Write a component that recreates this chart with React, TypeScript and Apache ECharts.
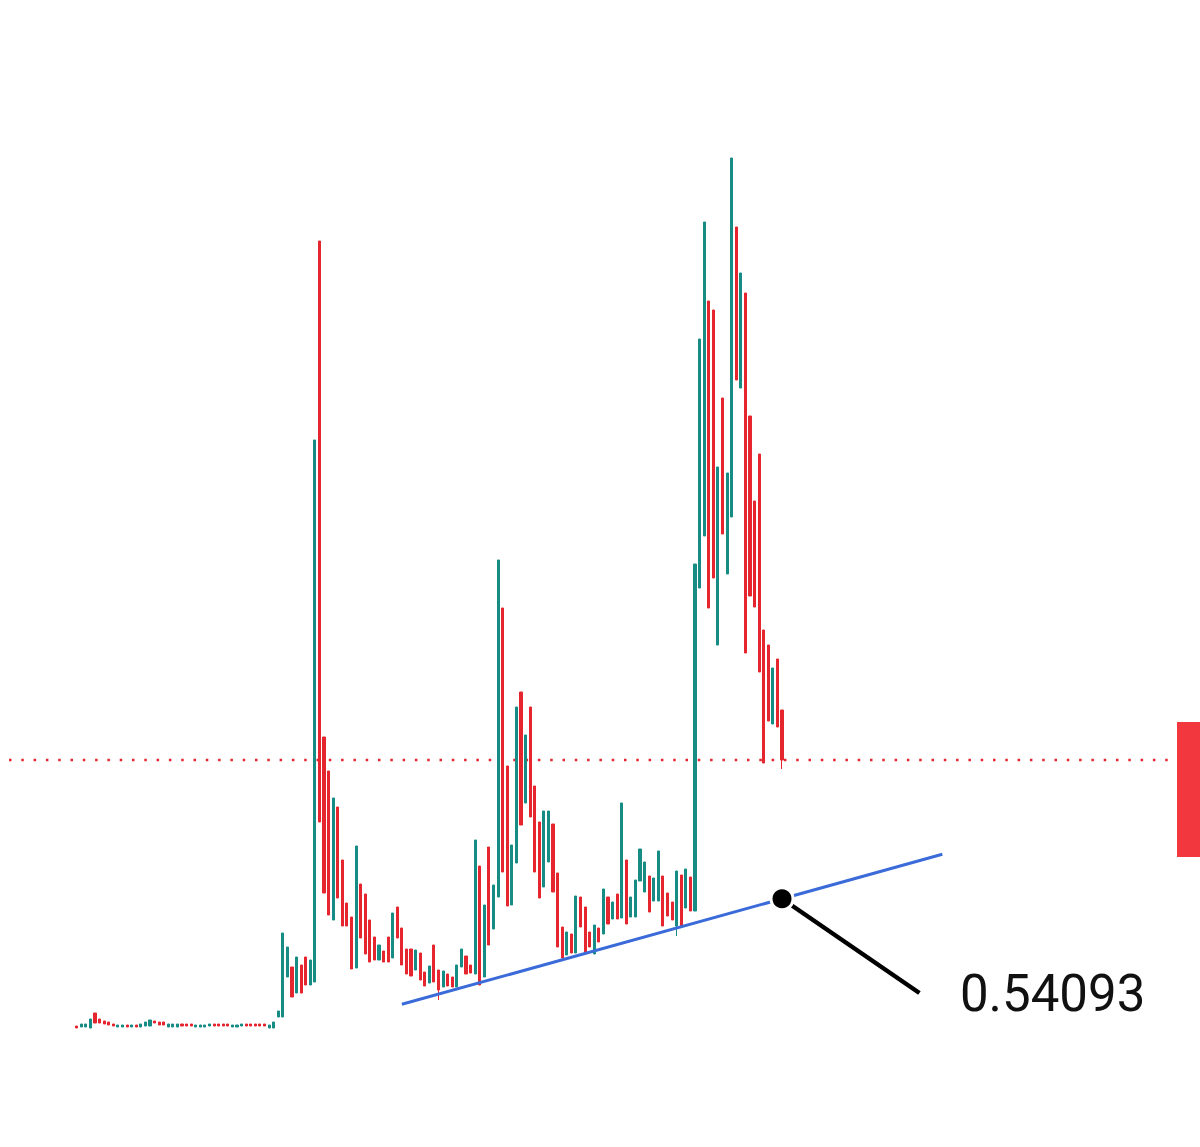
import React, { useEffect, useRef } from 'react';
import * as echarts from 'echarts';

// ---- data (price units) ----
const opens = [
  0.032, 0.028, 0.028, 0.024, 0.084, 0.060, 0.052, 0.048, 0.040, 0.028,
  0.028, 0.036, 0.028, 0.036, 0.028, 0.032, 0.032, 0.052, 0.048, 0.048,
  0.028, 0.028, 0.028, 0.040, 0.040, 0.040, 0.028, 0.028, 0.028, 0.032,
  0.040, 0.040, 0.040, 0.040, 0.028, 0.028, 0.032, 0.040, 0.040, 0.040,
  0.040, 0.040, 0.024, 0.024, 0.068, 0.068, 0.228, 0.268, 0.164, 0.276,
  0.308, 0.196, 0.208, 3.172, 1.188, 1.052, 0.456, 0.908, 0.696, 0.524,
  0.468, 0.264, 0.600, 0.560, 0.456, 0.388, 0.296, 0.332, 0.388, 0.304,
  0.508, 0.424, 0.340, 0.340, 0.256, 0.324, 0.248, 0.204, 0.356, 0.256,
  0.188, 0.240, 0.228, 0.188, 0.268, 0.312, 0.276, 0.240, 0.672, 0.228,
  0.748, 0.420, 0.548, 1.704, 1.072, 0.516, 0.684, 1.368, 0.924, 1.308,
  0.992, 0.848, 0.588, 0.688, 0.840, 0.644, 0.428, 0.316, 0.400, 0.324,
  0.548, 0.508, 0.408, 0.320, 0.424, 0.400, 0.548, 0.460, 0.560, 0.464,
  0.696, 0.468, 0.468, 0.612, 0.568, 0.632, 0.532, 0.532, 0.632, 0.564,
  0.528, 0.432, 0.636, 0.504, 0.628, 0.492, 1.784, 1.992, 2.932, 2.896,
  1.556, 2.544, 1.840, 2.068, 3.228, 2.584, 2.964, 2.472, 2.132, 2.320,
  1.616, 1.556, 1.240, 1.500, 1.296,
];

const closes = [
  0.024, 0.040, 0.040, 0.060, 0.044, 0.044, 0.040, 0.036, 0.032, 0.036,
  0.036, 0.028, 0.036, 0.028, 0.040, 0.048, 0.056, 0.044, 0.036, 0.036,
  0.040, 0.040, 0.040, 0.032, 0.032, 0.032, 0.036, 0.036, 0.036, 0.040,
  0.032, 0.032, 0.032, 0.032, 0.036, 0.036, 0.040, 0.032, 0.032, 0.032,
  0.032, 0.032, 0.036, 0.048, 0.092, 0.404, 0.348, 0.148, 0.308, 0.164,
  0.196, 0.296, 2.376, 0.848, 0.564, 0.476, 0.944, 0.544, 0.432, 0.432,
  0.260, 0.752, 0.384, 0.320, 0.288, 0.296, 0.356, 0.288, 0.288, 0.484,
  0.384, 0.276, 0.240, 0.232, 0.336, 0.216, 0.192, 0.272, 0.208, 0.176,
  0.252, 0.192, 0.188, 0.276, 0.340, 0.240, 0.244, 0.776, 0.196, 0.516,
  0.356, 0.596, 1.896, 0.648, 0.512, 0.756, 1.308, 0.836, 1.196, 0.868,
  0.648, 0.544, 0.892, 0.892, 0.568, 0.348, 0.304, 0.408, 0.324, 0.552,
  0.428, 0.328, 0.348, 0.436, 0.368, 0.580, 0.440, 0.528, 0.460, 0.924,
  0.440, 0.548, 0.616, 0.740, 0.688, 0.488, 0.624, 0.732, 0.432, 0.472,
  0.456, 0.652, 0.432, 0.660, 0.492, 1.880, 2.780, 3.248, 1.704, 1.824,
  2.268, 2.000, 2.244, 3.504, 2.616, 3.044, 1.524, 1.752, 1.708, 1.448,
  1.084, 1.252, 1.464, 1.228, 1.096,
];

// lower wicks that reach below the body: [candle index, low]
const wickLows = [
  [79, 0.136],
  [131, 0.392],
  [154, 1.060],
];

// support trend line: [candle index, price]
const trendStart = [71, 0.1189];
const trendEnd = [189, 0.7189];
const markedPoint = [154, 0.54093];
const labelAnchor = [184, 0.164];
const markedLabel = '0.54093';

const TOTAL_SLOTS = 240;
const categories = Array.from({ length: TOTAL_SLOTS }, (_, i) => String(i));

const UP = '#178c84';
const DOWN = '#e5262e';

export default function App() {
  const ref = useRef<HTMLDivElement>(null);

  useEffect(() => {
    if (!ref.current) return;
    const chart = echarts.init(ref.current, null, { renderer: 'svg' });

    const wickMap = new Map<number, number>(wickLows.map((w) => [w[0], w[1]] as [number, number]));
    const candles = opens.map((o, i) => {
      const c = closes[i];
      let low = Math.min(o, c);
      if (wickMap.has(i)) low = Math.min(low, wickMap.get(i) as number);
      const high = Math.max(o, c);
      return [o, c, low, high];
    });
    const lastPrice = closes[closes.length - 1];

    chart.setOption({
      animation: false,
      backgroundColor: '#ffffff',
      grid: { left: 74.4, top: 34, width: 1099.2, height: 1100 },
      xAxis: {
        type: 'category',
        data: categories,
        show: false,
        boundaryGap: true,
      },
      yAxis: {
        type: 'value',
        min: -0.4,
        max: 4.0,
        show: false,
        splitLine: { show: false },
      },
      series: [
        {
          type: 'candlestick',
          data: candles,
          barWidth: 2.6,
          silent: true,
          itemStyle: {
            color: UP,
            color0: DOWN,
            borderColor: UP,
            borderColor0: DOWN,
            borderWidth: 1,
          },
          markLine: {
            silent: true,
            symbol: ['none', 'none'],
            label: { show: false },
            emphasis: { disabled: true },
            data: [
              [
                { coord: trendStart, lineStyle: { color: '#3b6bd9', width: 3, type: 'solid' } },
                { coord: trendEnd },
              ],
              [
                { coord: markedPoint, lineStyle: { color: '#000000', width: 4.5, type: 'solid' } },
                { coord: labelAnchor },
              ],
            ],
          },
          markPoint: {
            silent: true,
            z: 10,
            data: [
              {
                coord: markedPoint,
                symbol: 'circle',
                symbolSize: 22,
                itemStyle: { color: '#000000', borderColor: '#ffffff', borderWidth: 3 },
                label: { show: false },
              },
              {
                coord: labelAnchor,
                symbol: 'circle',
                symbolSize: 1,
                itemStyle: { color: 'rgba(0,0,0,0)' },
                label: {
                  show: true,
                  position: 'right',
                  distance: 40,
                  formatter: markedLabel,
                  fontFamily: 'Roboto',
                  fontSize: 51,
                  color: '#111111',
                },
              },
            ],
          },
        },
      ],
    });

    const yPx = chart.convertToPixel({ yAxisIndex: 0 }, lastPrice) as number;
    chart.setOption({
      graphic: [
        {
          type: 'line',
          silent: true,
          z: 1,
          shape: { x1: 9, y1: yPx, x2: 1173, y2: yPx },
          style: { stroke: DOWN, lineWidth: 2.5, lineDash: [2.5, 9.8] },
        },
        {
          type: 'rect',
          silent: true,
          shape: { x: 1177, y: yPx - 38, width: 30, height: 135 },
          style: { fill: '#f2383e' },
        },
      ],
    });

    return () => chart.dispose();
  }, []);

  return (
    <div
      ref={ref}
      style={{ position: 'absolute', left: 0, top: 0, width: 1200, height: 1147, background: '#fff' }}
    />
  );
}
